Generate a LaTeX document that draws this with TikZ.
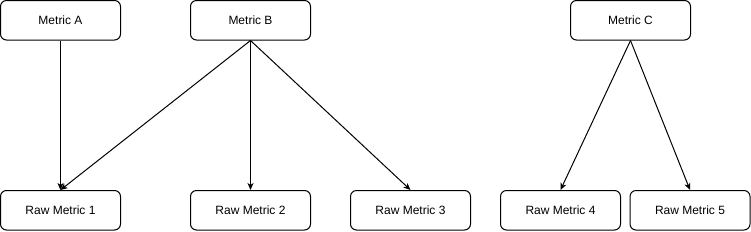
\documentclass[tikz,border=0pt]{standalone}
\usepackage{fontspec}
\setmainfont{Liberation Sans}
\usetikzlibrary{arrows,arrows.meta}
\tikzset{>={Stealth[length=7pt,width=6pt,inset=2pt]}}
\tikzset{metric/.style={draw, rounded corners=6pt, line width=1pt, minimum width=120pt, minimum height=39.5pt, inner sep=0pt, font=\fontsize{12}{14}\selectfont}}

\begin{document}
\begin{tikzpicture}[x=1pt, y=-1pt, line width=1pt]

	\useasboundingbox (0,0) rectangle (751,231);

	\node[metric] (ma) at (60.5,20.25) {Metric A};
	\node[metric] (mb) at (250.5,20.25) {Metric B};
	\node[metric] (mc) at (630.5,20.25) {Metric C};

	\node[metric] (r1) at (60.5,210.25) {Raw Metric 1};
	\node[metric] (r2) at (250.5,210.25) {Raw Metric 2};
	\node[metric] (r3) at (410.5,210.25) {Raw Metric 3};
	\node[metric] (r4) at (560.5,210.25) {Raw Metric 4};
	\node[metric] (r5) at (690,210.25) {Raw Metric 5};

	\draw[->] (ma.south) -- (r1.north);
	\draw[->] (mb.south) -- (r1.north);
	\draw[->] (mb.south) -- (r2.north);
	\draw[->] (mb.south) -- (r3.north);
	\draw[->] (mc.south) -- (r4.north);
	\draw[->] (mc.south) -- (r5.north);

\end{tikzpicture}
\end{document}
